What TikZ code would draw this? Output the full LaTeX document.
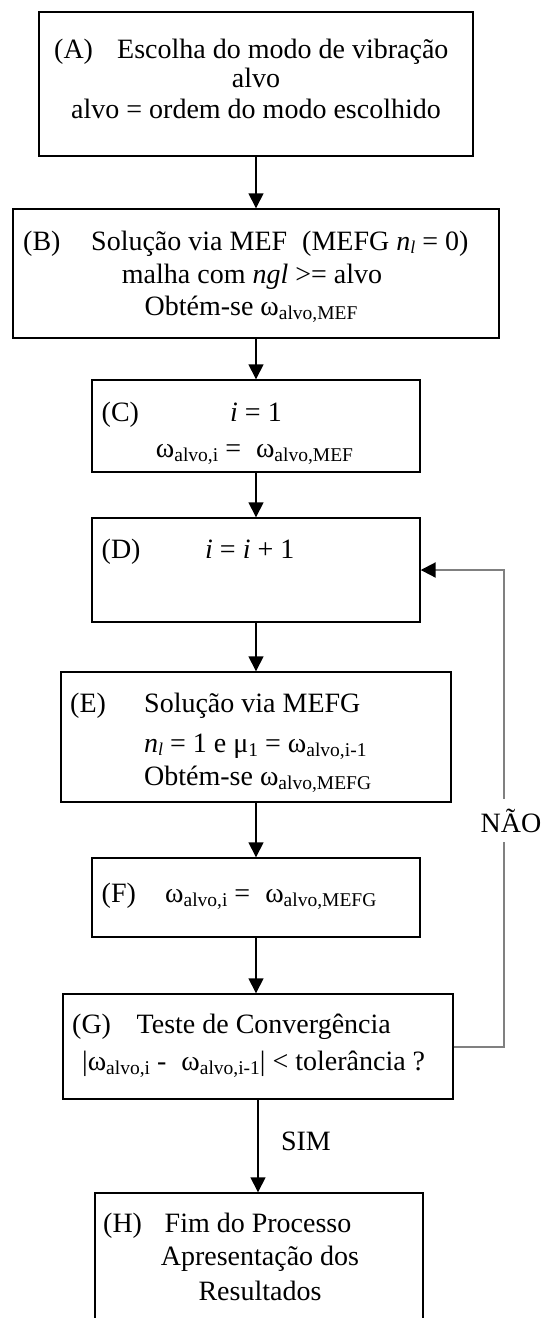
\documentclass[tikz,border=0pt]{standalone}
\usepackage{fontspec}
\setmainfont{Liberation Serif}
\usetikzlibrary{arrows.meta}
\newcommand\om[1]{ω\raisebox{-0.35ex}{\fontsize{19.5}{20}\selectfont #1}}
\newcommand\nl{\textit{n}\raisebox{-0.3ex}{\fontsize{18}{20}\selectfont\textit{l}}}
\begin{document}
\begin{tikzpicture}[x=1pt,y=-1pt,
  box/.style={draw=black,line width=1.4pt,rectangle,inner sep=0pt},
  txt/.style={inner sep=0pt,font=\fontsize{28}{33}\selectfont},
  arr/.style={draw=black,line width=1.4pt,-{Triangle[length=15pt,width=15pt]}},
  fb/.style={draw=gray,line width=2pt,-{Triangle[length=15pt,width=15pt,color=black]}}]
\useasboundingbox (0,0) rectangle (549,1318);
\clip (0,0) rectangle (549,1318);
\fill[white] (0,0) rectangle (549,1318);
% boxes
\node[box,minimum width=434pt,minimum height=144pt] (A) at (256,84) {};
\node[box,minimum width=486pt,minimum height=129pt] (B) at (256,273.5) {};
\node[box,minimum width=328pt,minimum height=92pt] (C) at (256,426) {};
\node[box,minimum width=328pt,minimum height=104pt] (D) at (256,570) {};
\node[box,minimum width=390pt,minimum height=130pt] (E) at (256,737) {};
\node[box,minimum width=328pt,minimum height=79pt] (F) at (256,897.5) {};
\node[box,minimum width=390pt,minimum height=105pt] (G) at (258,1046.5) {};
\node[box,minimum width=328pt,minimum height=154pt] (H) at (259,1270) {};
% texts A
\node[txt,anchor=base west] (a0) at (54,58) {(A)};
\node[txt,anchor=base west] (a1) at (117,58) {Escolha do modo de vibração};
\node[txt,anchor=base] (a2) at (256,87) {alvo};
\node[txt,anchor=base] (a3) at (256,118) {alvo = ordem do modo escolhido};
% B
\node[txt,anchor=base west] (b0) at (23,250) {(B)};
\node[txt,anchor=base west] (b1) at (91,250) {Solução via MEF\hspace{8pt} (MEFG \nl{} = 0)};
\node[txt,anchor=base] (b2) at (252,283) {malha com \textit{ngl} >= alvo};
\node[txt,anchor=base] (b3) at (251,315) {Obtém-se \om{alvo,MEF}};
% C
\node[txt,anchor=base west] (c0) at (101.5,421) {(C)};
\node[txt,anchor=base] (c1) at (256,421) {\textit{i} = 1};
\node[txt,anchor=base] (c2) at (254.5,457) {\om{alvo,i} =\hspace{8pt} \om{alvo,MEF}};
% D
\node[txt,anchor=base west] (d0) at (101.5,558) {(D)};
\node[txt,anchor=base west] (d1) at (205,558) {\textit{i} = \textit{i} + 1};
% E
\node[txt,anchor=base west] (e0) at (70,712) {(E)};
\node[txt,anchor=base west] (e1) at (144,712) {Solução via MEFG};
\node[txt,anchor=base west] (e2) at (144,752) {\nl{} = 1 e μ\raisebox{-0.35ex}{\fontsize{19.5}{20}\selectfont 1} = \om{alvo,i-1}};
\node[txt,anchor=base west] (e3) at (144,785) {Obtém-se \om{alvo,MEFG}};
% F
\node[txt,anchor=base west] (f0) at (101.5,902) {(F)};
\node[txt,anchor=base west] (f1) at (165,902) {\om{alvo,i} =\hspace{8pt} \om{alvo,MEFG}};
% G
\node[txt,anchor=base west] (g0) at (72,1033) {(G)};
\node[txt,anchor=base west] (g1) at (136.5,1033) {Teste de Convergência};
\node[txt,anchor=base west] (g2) at (82,1070) {|\om{alvo,i} -\hspace{8pt} \om{alvo,i-1}| < tolerância ?};
% H
\node[txt,anchor=base west] (h0) at (103,1232) {(H)};
\node[txt,anchor=base west] (h1) at (164.5,1232) {Fim do Processo};
\node[txt,anchor=base] (h2) at (260,1265) {Apresentação dos};
\node[txt,anchor=base] (h3) at (260,1300) {Resultados};
% connectors
\draw[arr] (A.south) -- (B.north);
\draw[arr] (B.south) -- (C.north);
\draw[arr] (C.south) -- (D.north);
\draw[arr] (D.south) -- (E.north);
\draw[arr] (E.south) -- (F.north);
\draw[arr] (F.south) -- (F.south |- G.north);
\draw[arr] (G.south) -- (G.south |- H.north);
\coordinate (fbx) at (504,0);
\draw[fb] (G.east) -- (G.east -| fbx) -- (D.east -| fbx) -- (D.east);
\node[txt,anchor=base,fill=white,inner xsep=1pt,inner ysep=10pt] (nao) at (511,832) {NÃO};
\node[txt,anchor=base] (sim) at (306,1150) {SIM};
\end{tikzpicture}
\end{document}
